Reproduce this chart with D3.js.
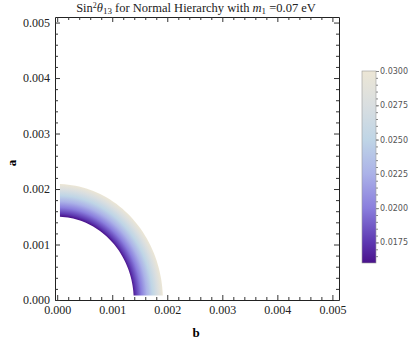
<!DOCTYPE html>
<html>
<head>
<meta charset="utf-8">
<script src="https://cdn.jsdelivr.net/npm/d3@7"></script>
<style>
  body { margin: 0; background: #fff; }
  svg { display: block; }
</style>
</head>
<body>
<div id="chart"></div>
<script>
// contour levels of sin^2(theta13) and where each one crosses the b and a axes
const contourLevels = [0.0162, 0.0175, 0.0200, 0.0225, 0.0250, 0.0275, 0.0300];
const radiusB = [0.00139, 0.00143, 0.00153, 0.00163, 0.00173, 0.00183, 0.00192];
const radiusA = [0.00150, 0.00154, 0.00165, 0.00176, 0.00187, 0.00198, 0.00209];
// lowest a, b sampled by the plot
const sampleMin = { b: 0.00005, a: 0.00008 };

// colour bar
const colorValues = [0.0160, 0.0175, 0.0200, 0.0225, 0.0250, 0.0275, 0.0300];
const colorHexes = ["#4a128b", "#5d38b1", "#8a7edd", "#abb2e8", "#bfd5e6", "#d9dee0", "#ece6d5"];
const barTicks = [0.0175, 0.0200, 0.0225, 0.0250, 0.0275, 0.0300];

// frame ticks
const majorTicks = [0, 0.001, 0.002, 0.003, 0.004, 0.005];

const width = 415;
const height = 347;

const svg = d3.select("#chart")
  .append("svg")
  .attr("width", width)
  .attr("height", height);

const x = d3.scaleLinear().domain([-0.00004, 0.00512]).range([55, 339]);
const y = d3.scaleLinear().domain([0, 0.0051]).range([300, 17]);

const color = d3.scaleLinear().domain(colorValues).range(colorHexes);

const defs = svg.append("defs");

// elliptical radial gradient centred at the origin
const rOut = x(radiusB[radiusB.length - 1]) - x(0);
const rOutA = y(0) - y(radiusA[radiusA.length - 1]);
const grad = defs.append("radialGradient")
  .attr("id", "ring")
  .attr("gradientUnits", "userSpaceOnUse")
  .attr("cx", x(0))
  .attr("cy", y(0))
  .attr("r", rOut)
  .attr("gradientTransform",
    `translate(${x(0)},${y(0)}) scale(1,${rOutA / rOut}) translate(${-x(0)},${-y(0)})`);

contourLevels.forEach((v, i) => {
  grad.append("stop")
    .attr("offset", (x(radiusB[i]) - x(0)) / rOut)
    .attr("stop-color", color(v));
});

defs.append("clipPath").attr("id", "region")
  .append("rect")
  .attr("x", x(sampleMin.b))
  .attr("y", y(0.0051))
  .attr("width", x(0.00512) - x(sampleMin.b))
  .attr("height", y(sampleMin.a) - y(0.0051));

// quarter ring between innermost and outermost contours
const angles = d3.range(0, 91, 2).map(d => d * Math.PI / 180);
const last = contourLevels.length - 1;
const outerPts = angles.map(t => [x(radiusB[last] * Math.cos(t)), y(radiusA[last] * Math.sin(t))]);
const innerPts = angles.slice().reverse().map(t => [x(radiusB[0] * Math.cos(t)), y(radiusA[0] * Math.sin(t))]);

svg.append("path")
  .attr("clip-path", "url(#region)")
  .attr("d", "M" + outerPts.concat(innerPts).join("L") + "Z")
  .attr("fill", "url(#ring)");

// frame
const frame = svg.append("g");
const minorTicks = d3.range(0, 0.00511, 0.0002).filter(v => Math.abs(v * 1000 - Math.round(v * 1000)) > 1e-6);

function addAxis(axisFn, scale, transform, labels) {
  const g = frame.append("g").attr("transform", transform);
  g.call(axisFn(scale).tickValues(majorTicks).tickSizeInner(-5).tickSizeOuter(0).tickPadding(labels ? 5 : 0)
    .tickFormat(labels ? d3.format(".3f") : ""));
  g.append("g").call(axisFn(scale).tickValues(minorTicks).tickSizeInner(-3).tickSizeOuter(0).tickFormat(""))
    .select(".domain").remove();
  g.selectAll("line").attr("stroke", "#333");
  g.select(".domain").attr("stroke", "#222");
  g.selectAll("text")
    .attr("font-family", "Liberation Serif, Times New Roman, serif")
    .attr("font-size", 12)
    .attr("fill", "#222");
  return g;
}

addAxis(d3.axisBottom, x, `translate(0,${y.range()[0]})`, true);
addAxis(d3.axisLeft, y, `translate(${x.range()[0]},0)`, true);
addAxis(d3.axisTop, x, `translate(0,${y.range()[1]})`, false);
addAxis(d3.axisRight, y, `translate(${x.range()[1]},0)`, false);

// title
const title = svg.append("text")
  .attr("x", 196)
  .attr("y", 12)
  .attr("text-anchor", "middle")
  .attr("font-family", "Liberation Serif, Times New Roman, serif")
  .attr("font-size", 12.5)
  .attr("fill", "#222");
title.append("tspan").text("Sin");
title.append("tspan").attr("font-size", 8).attr("dy", -4).text("2");
title.append("tspan").attr("font-style", "italic").attr("dy", 4).text("θ");
title.append("tspan").attr("font-size", 9).attr("dy", 2).text("13");
title.append("tspan").attr("dy", -2).text(" for Normal Hierarchy with ");
title.append("tspan").attr("font-style", "italic").text("m");
title.append("tspan").attr("font-size", 9).attr("dy", 2).text("1");
title.append("tspan").attr("dy", -2).text(" =0.07 eV");

// axis labels
svg.append("text")
  .attr("transform", "translate(16,163) rotate(-90)")
  .attr("text-anchor", "middle")
  .attr("font-family", "Liberation Serif, Times New Roman, serif")
  .attr("font-weight", "bold")
  .attr("font-size", 13)
  .text("a");

svg.append("text")
  .attr("x", 196)
  .attr("y", 337)
  .attr("text-anchor", "middle")
  .attr("font-family", "Liberation Serif, Times New Roman, serif")
  .attr("font-weight", "bold")
  .attr("font-size", 13)
  .text("b");

// colour bar
const bar = d3.scaleLinear().domain([colorValues[0], colorValues[colorValues.length - 1]]).range([263, 71]);
const barGrad = defs.append("linearGradient")
  .attr("id", "bar")
  .attr("x1", 0).attr("y1", 1).attr("x2", 0).attr("y2", 0);
colorValues.forEach((v, i) => {
  barGrad.append("stop")
    .attr("offset", (v - colorValues[0]) / (colorValues[colorValues.length - 1] - colorValues[0]))
    .attr("stop-color", colorHexes[i]);
});

svg.append("rect")
  .attr("x", 362)
  .attr("y", bar.range()[1])
  .attr("width", 14)
  .attr("height", bar.range()[0] - bar.range()[1])
  .attr("fill", "url(#bar)")
  .attr("stroke", "#999")
  .attr("stroke-width", 0.6);

const barAxis = svg.append("g").attr("transform", "translate(376,0)");
barAxis.call(d3.axisRight(bar).tickValues(barTicks).tickSize(3).tickPadding(1).tickFormat(d3.format(".4f")));
barAxis.append("g")
  .call(d3.axisRight(bar).tickValues(d3.range(0.0165, 0.03, 0.0005)).tickSize(2).tickFormat(""))
  .select(".domain").remove();
barAxis.select(".domain").remove();
barAxis.selectAll("line").attr("stroke", "#888");
barAxis.selectAll("text")
  .attr("font-family", "DejaVu Sans, sans-serif")
  .attr("font-size", 8)
  .attr("fill", "#555");
</script>
</body>
</html>
